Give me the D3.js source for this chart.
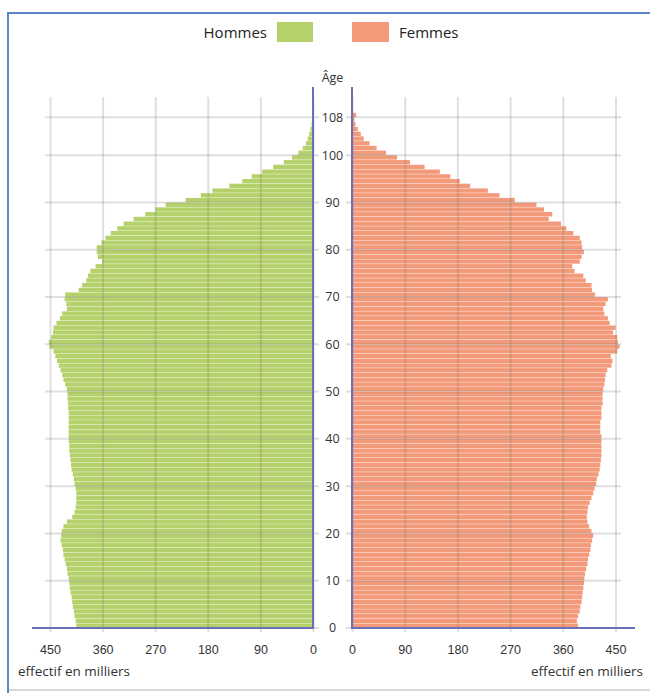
<!DOCTYPE html>
<html>
<head>
<meta charset="utf-8">
<script src="https://cdn.jsdelivr.net/npm/d3@7"></script>
<style>
  body { margin: 0; background: #fff; }
  svg { font-family: "Open Sans", sans-serif; }
</style>
</head>
<body>
<div id="pyramid"></div>
<script>
// effectifs en milliers, par âge de 0 à 108 ans
const ages = d3.range(0, 109);
const hommes = [
  405, 406, 408, 409, 411, 412, 413, 415, 416, 417,
  418, 420, 421, 423, 425, 427, 428, 430, 432, 431,
  430, 427, 421, 412, 408, 406, 405, 405, 405, 406,
  408, 409, 411, 413, 414, 415, 416, 417, 417, 418,
  418, 418, 418, 418, 418, 418, 419, 419, 420, 420,
  421, 424, 427, 429, 432, 435, 438, 441, 444, 451,
  452, 448, 445, 444, 439, 433, 429, 421, 422, 425,
  424, 401, 395, 388, 385, 381, 372, 361, 368, 370,
  370, 362, 355, 346, 335, 324, 307, 287, 270, 252,
  218, 192, 172, 143, 121, 105, 87, 68, 50, 36,
  25, 17.5, 12, 9, 6.5, 4.5, 2.5, 1, 0.5
];
const femmes = [
  386, 384, 386, 389, 390, 392, 393, 394, 395, 396,
  397, 398, 400, 402, 403, 405, 407, 408, 410, 412,
  409, 405, 402, 401, 402, 403, 406, 409, 412, 414,
  417, 418, 421, 423, 424, 425, 426, 426, 426, 426,
  426, 424, 424, 424, 426, 426, 426, 428, 428, 428,
  429, 431, 432, 433, 436, 443, 445, 442, 453, 457,
  454, 453, 446, 450, 440, 437, 431, 429, 433, 437,
  415, 410, 409, 399, 395, 380, 376, 389, 392, 396,
  393, 392, 389, 378, 366, 357, 336, 342, 328, 315,
  278, 252, 232, 202, 184, 168, 150, 124, 99, 77,
  58, 42, 30, 20, 15, 10, 6, 4, 7
];
const xTicks = [0, 90, 180, 270, 360, 450];
const ageTicks = [0, 10, 20, 30, 40, 50, 60, 70, 80, 90, 100, 108];
const legendItems = ["Hommes", "Femmes"];

const width = 650, height = 693;
const colH = "#b5d16b", colF = "#f39a7b", axisCol = "#6a70b8";
const gridCol = "rgba(110,110,110,0.22)";

const xLeft = d3.scaleLinear().domain([0, 450]).range([313, 50]);
const xRight = d3.scaleLinear().domain([0, 450]).range([352, 615.5]);
const y = d3.scaleLinear().domain([0, 108]).range([628, 117.3]);

const svg = d3.select("#pyramid")
    .append("svg")
    .attr("width", width)
    .attr("height", height);

// cadre
svg.append("path")
    .attr("d", `M8,${height} L8,13 L${width},13`)
    .attr("fill", "none")
    .attr("stroke", "#5b87c9")
    .attr("stroke-width", 2);
svg.append("line")
    .attr("x1", 9).attr("x2", width)
    .attr("y1", 690).attr("y2", 690)
    .attr("stroke", "#d8d8d8").attr("stroke-width", 2);

// legende
svg.append("text")
    .attr("x", 267).attr("y", 33).attr("dy", "0.35em")
    .attr("text-anchor", "end")
    .style("font-size", "15px").attr("fill", "#222")
    .text(legendItems[0]);
svg.append("rect")
    .attr("x", 277).attr("y", 22).attr("width", 36).attr("height", 20)
    .attr("fill", colH);
svg.append("rect")
    .attr("x", 352).attr("y", 22).attr("width", 37).attr("height", 20)
    .attr("fill", colF);
svg.append("text")
    .attr("x", 399).attr("y", 33).attr("dy", "0.35em")
    .style("font-size", "15px").attr("fill", "#222")
    .text(legendItems[1]);

// barres
const barH = y(0) - y(1);

svg.append("g")
    .selectAll("rect")
    .data(ages)
    .enter()
    .append("rect")
    .attr("x", d => xLeft(hommes[d]))
    .attr("y", d => y(d + 1) + 0.2)
    .attr("width", d => xLeft(0) - xLeft(hommes[d]))
    .attr("height", barH - 0.4)
    .attr("fill", colH);

svg.append("g")
    .selectAll("rect")
    .data(ages)
    .enter()
    .append("rect")
    .attr("x", xRight(0))
    .attr("y", d => y(d + 1) + 0.2)
    .attr("width", d => xRight(femmes[d]) - xRight(0))
    .attr("height", barH - 0.4)
    .attr("fill", colF);

// grille verticale + etiquettes du bas
const axisL = d3.axisBottom(xLeft).tickValues(xTicks)
    .tickSize(-(628 - 93)).tickSizeOuter(0).tickPadding(13);
const axisR = d3.axisBottom(xRight).tickValues(xTicks)
    .tickSize(-(628 - 93)).tickSizeOuter(0).tickPadding(13);

[axisL, axisR].forEach(ax => {
    const g = svg.append("g")
        .attr("transform", "translate(0,632)")
        .call(ax);
    g.select(".domain").remove();
    g.selectAll(".tick line")
        .attr("y1", 0)
        .attr("stroke", gridCol).attr("stroke-width", 2);
    g.selectAll(".tick text")
        .attr("fill", "#333").style("font-size", "12.5px");
});

// grille horizontale + ages
const ageG = svg.append("g");
ageG.selectAll(".gl")
    .data(ageTicks).enter().append("line")
    .attr("x1", 45).attr("x2", 319)
    .attr("y1", d => y(d)).attr("y2", d => y(d))
    .attr("stroke", gridCol).attr("stroke-width", 2);
ageG.selectAll(".gr")
    .data(ageTicks).enter().append("line")
    .attr("x1", 346).attr("x2", 621)
    .attr("y1", d => y(d)).attr("y2", d => y(d))
    .attr("stroke", gridCol).attr("stroke-width", 2);
ageG.selectAll("text")
    .data(ageTicks).enter().append("text")
    .attr("x", 332.5).attr("y", d => y(d)).attr("dy", "0.35em")
    .attr("text-anchor", "middle")
    .style("font-size", "12.5px").attr("fill", "#333")
    .text(d => d);

svg.append("text")
    .attr("x", 332.5).attr("y", 78).attr("dy", "0.35em")
    .attr("text-anchor", "middle")
    .style("font-size", "12.5px").attr("fill", "#333")
    .text("Âge");

// axes
svg.append("line")
    .attr("x1", xLeft(0)).attr("x2", xLeft(0)).attr("y1", 87).attr("y2", 629)
    .attr("stroke", axisCol).attr("stroke-width", 2);
svg.append("line")
    .attr("x1", xRight(0)).attr("x2", xRight(0)).attr("y1", 87).attr("y2", 629)
    .attr("stroke", axisCol).attr("stroke-width", 2);
svg.append("line")
    .attr("x1", 32).attr("x2", xLeft(0)).attr("y1", 628).attr("y2", 628)
    .attr("stroke", axisCol).attr("stroke-width", 2);
svg.append("line")
    .attr("x1", xRight(0)).attr("x2", 635).attr("y1", 628).attr("y2", 628)
    .attr("stroke", axisCol).attr("stroke-width", 2);

// titres des axes
svg.append("text")
    .attr("x", 18).attr("y", 671).attr("dy", "0.35em")
    .style("font-size", "13.5px").attr("fill", "#333")
    .text("effectif en milliers");
svg.append("text")
    .attr("x", 643).attr("y", 671).attr("dy", "0.35em")
    .attr("text-anchor", "end")
    .style("font-size", "13.5px").attr("fill", "#333")
    .text("effectif en milliers");
</script>
</body>
</html>
